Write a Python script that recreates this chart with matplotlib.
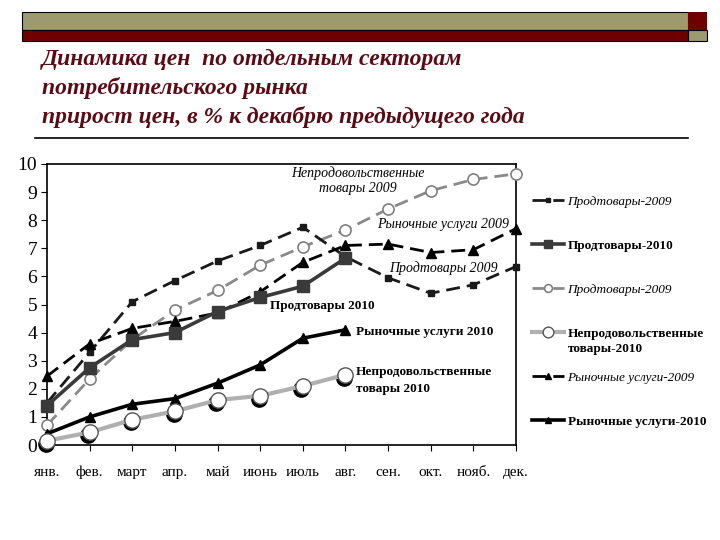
import matplotlib
matplotlib.use("Agg")
import matplotlib.pyplot as plt
import matplotlib.transforms as mtransforms
from matplotlib.patches import Rectangle
from matplotlib.lines import Line2D

plt.rcParams['font.family'] = ['Liberation Serif', 'DejaVu Serif']

months = ['янв.', 'фев.', 'март', 'апр.', 'май', 'июнь', 'июль', 'авг.', 'сен.', 'окт.', 'нояб.', 'дек.']
y_ticks = [0, 1, 2, 3, 4, 5, 6, 7, 8, 9, 10]

food_2009 = [1.5, 3.3, 5.1, 5.85, 6.55, 7.1, 7.75, 6.7, 5.95, 5.4, 5.7, 6.35]
food_2010 = [1.4, 2.75, 3.75, 4.0, 4.75, 5.25, 5.65, 6.65]
nonfood_2009 = [0.7, 2.35, 3.75, 4.8, 5.5, 6.4, 7.05, 7.65, 8.4, 9.05, 9.45, 9.65]
nonfood_2010 = [0.15, 0.45, 0.9, 1.2, 1.6, 1.75, 2.1, 2.5]
services_2009 = [2.45, 3.6, 4.15, 4.4, 4.7, 5.45, 6.5, 7.1, 7.15, 6.85, 6.95, 7.7]
services_2010 = [0.4, 1.0, 1.45, 1.65, 2.2, 2.85, 3.8, 4.1]

legend_labels = ['Продтовары-2009', 'Продтовары-2010', 'Продтовары-2009',
                 'Непродовольственные', 'Рыночные услуги-2009', 'Рыночные услуги-2010']
legend_extra = 'товары-2010'

title_lines = ['Динамика цен  по отдельным секторам',
               'потребительского рынка',
               'прирост цен, в % к декабрю предыдущего года']

MAROON = '#5a0c16'
OLIVE = '#9c9a6e'
DARKRED = '#6e0000'

fig = plt.figure(figsize=(7.2, 5.4), dpi=100)

# header bars
fig.add_artist(Rectangle((22/720, 1-30/540), 666/720, 18/540, transform=fig.transFigure,
                         facecolor=OLIVE, edgecolor='black', lw=0.8))
fig.add_artist(Rectangle((22/720, 1-41/540), 666/720, 11/540, transform=fig.transFigure,
                         facecolor=DARKRED, edgecolor='black', lw=0.8))
fig.add_artist(Rectangle((688/720, 1-30/540), 19/720, 18/540, transform=fig.transFigure,
                         facecolor=DARKRED, edgecolor='none'))
fig.add_artist(Rectangle((688/720, 1-41/540), 19/720, 11/540, transform=fig.transFigure,
                         facecolor=OLIVE, edgecolor='black', lw=0.8))
fig.add_artist(Line2D([35/720, 688/720], [1-138/540, 1-138/540], transform=fig.transFigure,
                      color='black', lw=1.2))

for i, line in enumerate(title_lines):
    fig.text(42/720, 1-(59 + 29*i)/540, line, fontsize=17, fontweight='bold', fontstyle='italic',
             color=MAROON, va='center', ha='left')

ax = fig.add_axes([47/720, 1-445/540, 469/720, 281/540])
x_all = list(range(len(months)))
x_2010 = x_all[:len(food_2010)]

h1, = ax.plot(x_all, food_2009, color='#1a1a1a', lw=2, dashes=(5, 2.5), marker='s', ms=5,
              clip_on=False, zorder=4)
h2, = ax.plot(x_2010, food_2010, color='#3a3a3a', lw=2.6, marker='s', ms=8,
              clip_on=False, zorder=5)
h3, = ax.plot(x_all, nonfood_2009, color='#8a8a8a', lw=2, dashes=(5, 2.5), marker='o', ms=8,
              mfc='white', mec='#808080', mew=1.2, clip_on=False, zorder=3)
shadow = ax.transData + mtransforms.ScaledTranslation(-1/72, -2/72, fig.dpi_scale_trans)
ax.plot(x_2010, nonfood_2010, ls='none', marker='o', ms=11, mfc='black', mec='black',
        transform=shadow, clip_on=False, zorder=5)
h4, = ax.plot(x_2010, nonfood_2010, color='#b0b0b0', lw=3, marker='o', ms=11,
              mfc='white', mec='#555555', mew=1.0, clip_on=False, zorder=6)
h5, = ax.plot(x_all, services_2009, color='black', lw=2, dashes=(5, 2.5), marker='^', ms=7,
              clip_on=False, zorder=4)
h6, = ax.plot(x_2010, services_2010, color='black', lw=2.6, marker='^', ms=7,
              clip_on=False, zorder=5)

ax.set_xlim(0, len(months) - 1)
ax.set_ylim(0, 10)
ax.set_xticks(x_all)
ax.set_xticklabels(months, fontsize=11)
ax.set_yticks(y_ticks)
ax.set_yticklabels([str(v) for v in y_ticks], fontsize=14)
ax.tick_params(axis='x', direction='out', length=4, pad=11)
ax.tick_params(axis='y', direction='out', length=4, pad=3)
for s in ax.spines.values():
    s.set_linewidth(1.2)
    s.set_color('black')

# labels in the plot
ax.text(7.3, 9.4, 'Непродовольственные\nтовары 2009', fontsize=10, fontstyle='italic',
        ha='center', va='center', multialignment='center')
ax.text(9.3, 7.86, 'Рыночные услуги 2009', fontsize=10, fontstyle='italic', ha='center', va='center')
ax.text(9.3, 6.3, 'Продтовары 2009', fontsize=10, fontstyle='italic', ha='center', va='center')
ax.text(6.45, 4.95, 'Продтовары 2010', fontsize=9.5, fontweight='bold', ha='center', va='center')
ax.text(7.25, 4.02, 'Рыночные услуги 2010', fontsize=9.5, fontweight='bold', ha='left', va='center')
ax.text(7.25, 2.3, 'Непродовольственные\nтовары 2010', fontsize=9.5, fontweight='bold',
        ha='left', va='center', linespacing=1.5)

leg = fig.legend([h1, h2, h3, h4, h5, h6], legend_labels, loc='upper left',
                 bbox_to_anchor=(520/720, 1-184/540), frameon=False, fontsize=9.5,
                 handlelength=2.4, handletextpad=0.3, labelspacing=2.4, markerscale=0.7)
styles = ['italic', 'bold', 'italic', 'bold', 'italic', 'bold']
for t, st in zip(leg.get_texts(), styles):
    if st == 'italic':
        t.set_fontstyle('italic')
    else:
        t.set_fontweight('bold')

# second line of the 4th legend label, placed right under it
fig.canvas.draw()
bb = leg.get_texts()[3].get_window_extent()
fig.text(bb.x0 / fig.bbox.width, (bb.y0 - 3) / fig.bbox.height, legend_extra,
         fontsize=9.5, fontweight='bold', ha='left', va='top')

fig.savefig('out.png', dpi=100)
